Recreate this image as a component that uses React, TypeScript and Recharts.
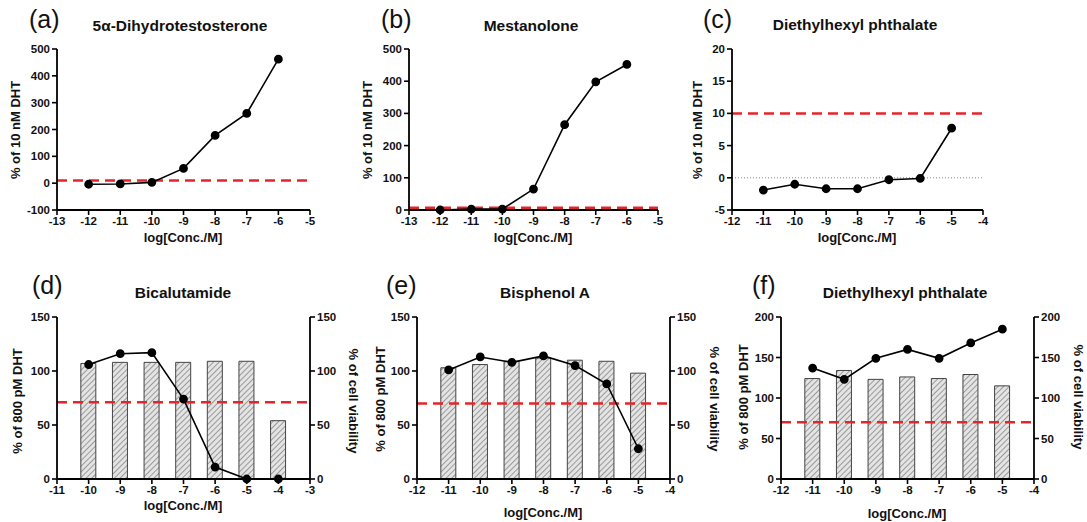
import React from 'react';
import { ComposedChart, Line, Bar, XAxis, YAxis, ReferenceLine } from 'recharts';

// (a) 5α-Dihydrotestosterone
const concA = [-12, -11, -10, -9, -8, -7, -6];
const dhtA = [-4, -3, 3, 55, 178, 260, 462];
const cutoffA = 10;

// (b) Mestanolone
const concB = [-12, -11, -10, -9, -8, -7, -6];
const dhtB = [0, 3, 3, 65, 265, 398, 452];
const cutoffB = 7;

// (c) Diethylhexyl phthalate (agonist)
const concC = [-11, -10, -9, -8, -7, -6, -5];
const dhtC = [-1.9, -1.0, -1.7, -1.7, -0.3, -0.1, 7.7];
const cutoffC = 10;

// (d) Bicalutamide
const concD = [-10, -9, -8, -7, -6, -5, -4];
const dhtD = [106, 116, 117, 74, 11, 0, 0];
const viabD = [107, 108, 108, 108, 109, 109, 54];
const cutoffD = 71;

// (e) Bisphenol A
const concE = [-11, -10, -9, -8, -7, -6, -5];
const dhtE = [101, 113, 108, 114, 105, 88, 28];
const viabE = [103, 106, 109, 112, 110, 109, 98];
const cutoffE = 70;

// (f) Diethylhexyl phthalate (antagonist)
const concF = [-11, -10, -9, -8, -7, -6, -5];
const dhtF = [137, 123, 149, 160, 149, 168, 185];
const viabF = [124, 134, 123, 126, 124, 129, 115];
const cutoffF = 70;

const ticksX13 = [-13, -12, -11, -10, -9, -8, -7, -6, -5];
const ticksX12 = [-12, -11, -10, -9, -8, -7, -6, -5, -4];
const ticksX11 = [-11, -10, -9, -8, -7, -6, -5, -4, -3];
const ticksYA = [-100, 0, 100, 200, 300, 400, 500];
const ticksYB = [0, 100, 200, 300, 400, 500];
const ticksYC = [-5, 0, 5, 10, 15, 20];
const ticksY150 = [0, 50, 100, 150];
const ticksY200 = [0, 50, 100, 150, 200];

const FONT = '"Liberation Sans", Arial, sans-serif';
const RED = '#e3262b';
const tickStyle = { fontSize: 11.5, fontWeight: 700, fill: '#111', fontFamily: FONT };

type PanelProps = {
  x: number;
  y: number;
  w: number;
  h: number;
  conc: number[];
  dht: number[];
  viab?: number[];
  xTicks: number[];
  yTicks: number[];
  cutoff: number;
  zeroLine?: boolean;
};

function Panel({ x, y, w, h, conc, dht, viab, xTicks, yTicks, cutoff, zeroLine }: PanelProps) {
  const ML = 50, MR = 40, MT = 15, MB = 30;
  const data = conc.map((c, i) => ({ x: c, dht: dht[i], viab: viab ? viab[i] : undefined }));
  const yDomain = [yTicks[0], yTicks[yTicks.length - 1]];
  const axisProps = {
    stroke: '#000',
    strokeWidth: 1.6,
    tick: tickStyle,
    tickSize: 5,
    tickMargin: 2,
    tickLine: { stroke: '#000', strokeWidth: 1.6 },
    axisLine: { stroke: '#000', strokeWidth: 1.8 },
  };
  return (
    <div style={{ position: 'absolute', left: x - ML, top: y - MT }}>
      <ComposedChart
        width={w + ML + MR}
        height={h + MT + MB}
        data={data}
        margin={{ top: MT, left: 0, right: viab ? 0 : MR, bottom: 0 }}
      >
        <XAxis
          dataKey="x"
          type="number"
          domain={[xTicks[0], xTicks[xTicks.length - 1]]}
          ticks={xTicks}
          height={MB}
          {...axisProps}
        />
        <YAxis yAxisId="l" width={ML} domain={yDomain} ticks={yTicks} {...axisProps} />
        {viab && (
          <YAxis
            yAxisId="r"
            orientation="right"
            width={MR}
            domain={yDomain}
            ticks={yTicks}
            {...axisProps}
          />
        )}
        {viab && (
          <Bar
            yAxisId="r"
            dataKey="viab"
            barSize={15}
            fill="url(#hatch)"
            stroke="#444"
            strokeWidth={1}
            isAnimationActive={false}
          />
        )}
        {zeroLine && (
          <ReferenceLine yAxisId="l" y={0} stroke="#888" strokeWidth={1} strokeDasharray="1 2" />
        )}
        <ReferenceLine yAxisId="l" y={cutoff} stroke={RED} strokeWidth={2.5} strokeDasharray="10 6" />
        <Line
          yAxisId="l"
          dataKey="dht"
          stroke="#000"
          strokeWidth={1.6}
          dot={{ r: 3.6, fill: '#000', stroke: '#000' }}
          isAnimationActive={false}
        />
      </ComposedChart>
    </div>
  );
}

const abs = (left: number, top: number): React.CSSProperties => ({
  position: 'absolute',
  left,
  top,
  whiteSpace: 'nowrap',
  fontFamily: FONT,
  color: '#111',
  lineHeight: 1,
});

function Letter({ x, y, t }: { x: number; y: number; t: string }) {
  return <div style={{ ...abs(x, y), fontSize: 25 }}>{t}</div>;
}

function Title({ cx, cy, t }: { cx: number; cy: number; t: string }) {
  return (
    <div style={{ ...abs(cx, cy), fontSize: 15.5, fontWeight: 700, transform: 'translate(-50%, -50%)' }}>{t}</div>
  );
}

function XLabel({ cx, cy }: { cx: number; cy: number }) {
  return (
    <div style={{ ...abs(cx, cy), fontSize: 13, fontWeight: 700, transform: 'translate(-50%, -50%)' }}>
      log[Conc./M]
    </div>
  );
}

function YLabel({ cx, cy, t, right }: { cx: number; cy: number; t: string; right?: boolean }) {
  return (
    <div
      style={{
        ...abs(cx, cy),
        fontSize: 13,
        fontWeight: 700,
        transform: `translate(-50%, -50%) rotate(${right ? 90 : -90}deg)`,
      }}
    >
      {t}
    </div>
  );
}

export default function App() {
  return (
    <div style={{ position: 'absolute', left: 0, top: 0, width: 1087, height: 522, background: '#fff', overflow: 'hidden' }}>
      <svg width={0} height={0} style={{ position: 'absolute' }}>
        <defs>
          <pattern id="hatch" patternUnits="userSpaceOnUse" width={4} height={4} patternTransform="rotate(45)">
            <rect width={4} height={4} fill="#e4e4e4" />
            <line x1={0} y1={0} x2={0} y2={4} stroke="#666" strokeWidth={1.2} />
          </pattern>
        </defs>
      </svg>

      {/* top row */}
      <Panel x={57} y={49} w={253} h={161} conc={concA} dht={dhtA} xTicks={ticksX13} yTicks={ticksYA} cutoff={cutoffA} />
      <Panel x={409} y={49} w={249} h={161} conc={concB} dht={dhtB} xTicks={ticksX13} yTicks={ticksYB} cutoff={cutoffB} />
      <Panel x={732} y={49} w={251} h={161} conc={concC} dht={dhtC} xTicks={ticksX12} yTicks={ticksYC} cutoff={cutoffC} zeroLine />

      {/* bottom row */}
      <Panel x={57} y={317} w={253} h={162} conc={concD} dht={dhtD} viab={viabD} xTicks={ticksX11} yTicks={ticksY150} cutoff={cutoffD} />
      <Panel x={417} y={317} w={253} h={162} conc={concE} dht={dhtE} viab={viabE} xTicks={ticksX12} yTicks={ticksY150} cutoff={cutoffE} />
      <Panel x={781} y={317} w={253} h={162} conc={concF} dht={dhtF} viab={viabF} xTicks={ticksX12} yTicks={ticksY200} cutoff={cutoffF} />

      <Letter x={29} y={7} t="(a)" />
      <Letter x={381} y={7} t="(b)" />
      <Letter x={703} y={7} t="(c)" />
      <Letter x={32} y={273} t="(d)" />
      <Letter x={386} y={273} t="(e)" />
      <Letter x={752} y={273} t="(f)" />

      <Title cx={180} cy={26} t="5α-Dihydrotestosterone" />
      <Title cx={531} cy={26} t="Mestanolone" />
      <Title cx={855} cy={25} t="Diethylhexyl phthalate" />
      <Title cx={183} cy={293} t="Bicalutamide" />
      <Title cx={545} cy={293} t="Bisphenol A" />
      <Title cx={905} cy={293} t="Diethylhexyl phthalate" />

      <XLabel cx={183} cy={237} />
      <XLabel cx={533} cy={237} />
      <XLabel cx={857} cy={237} />
      <XLabel cx={183} cy={505} />
      <XLabel cx={543} cy={512} />
      <XLabel cx={907} cy={513} />

      <YLabel cx={15} cy={130} t="% of 10 nM DHT" />
      <YLabel cx={367} cy={130} t="% of 10 nM DHT" />
      <YLabel cx={697} cy={130} t="% of 10 nM DHT" />
      <YLabel cx={17} cy={401} t="% of 800 pM DHT" />
      <YLabel cx={380} cy={399} t="% of 800 pM DHT" />
      <YLabel cx={743} cy={397} t="% of 800 pM DHT" />
      <YLabel cx={353} cy={401} t="% of cell viability" right />
      <YLabel cx={714} cy={399} t="% of cell viability" right />
      <YLabel cx={1078} cy={397} t="% of cell viability" right />
    </div>
  );
}
